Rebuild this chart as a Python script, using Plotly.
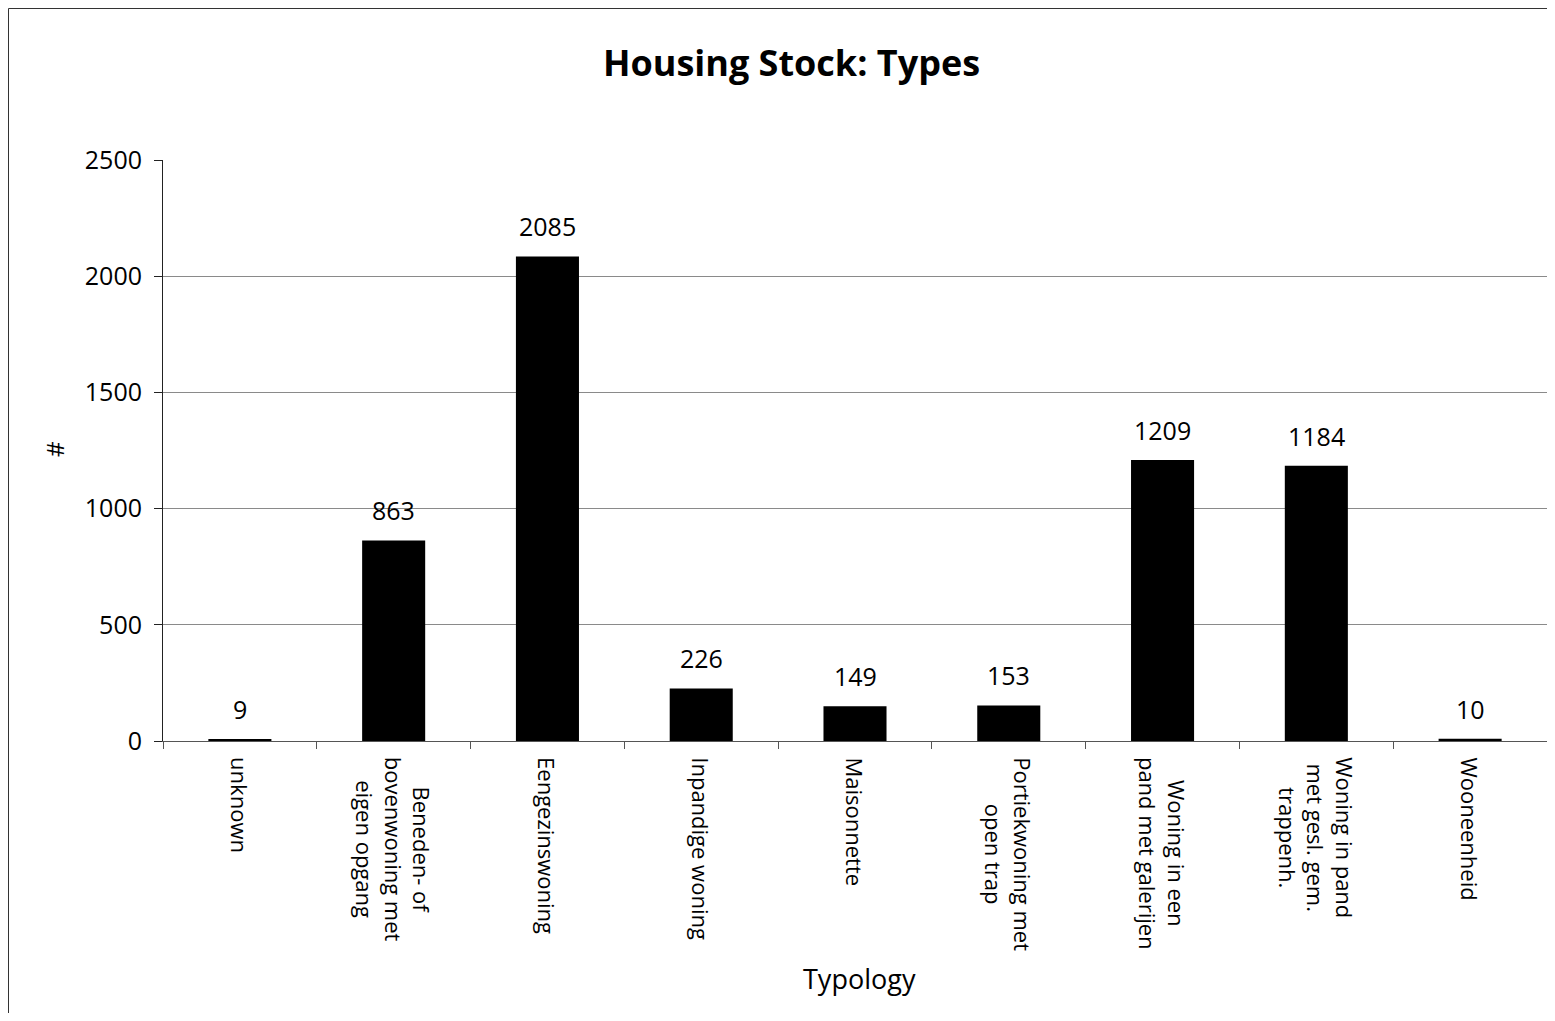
import plotly.graph_objects as go

# ---- data ----
categories = ["unknown", "Beneden- of bovenwoning met eigen opgang", "Eengezinswoning",
              "Inpandige woning", "Maisonnette", "Portiekwoning met open trap",
              "Woning in een pand met galerijen", "Woning in pand met gesl. gem. trappenh.",
              "Wooneenheid"]
category_labels = ["unknown", "Beneden- of<br>bovenwoning met<br>eigen opgang", "Eengezinswoning",
                   "Inpandige woning", "Maisonnette", "Portiekwoning met<br>open trap",
                   "Woning in een<br>pand met galerijen", "Woning in pand<br>met gesl. gem.<br>trappenh.",
                   "Wooneenheid"]
values = [9, 863, 2085, 226, 149, 153, 1209, 1184, 10]
y_ticks = [0, 500, 1000, 1500, 2000, 2500]

# ---- layout geometry (pixels in the figure) ----
W, H = 1539, 1005
ML, MR, MT, MB = 155, 0, 152, 272
PW = W - ML - MR
PH = H - MT - MB
FONT = "Open Sans"

def px_x(p):
    return (p - ML) / PW

def px_y(p):
    return (H - MB - p) / PH

fig = go.Figure()
fig.add_trace(go.Bar(x=categories, y=values, marker=dict(color="black", line=dict(width=0)),
                     hoverinfo="x+y"))

annotations = []
# value labels
for c, v in zip(categories, values):
    annotations.append(dict(x=c, y=v, xref="x", yref="y", text=str(v), showarrow=False,
                            yanchor="bottom", xanchor="center", yshift=11,
                            font=dict(family=FONT, size=25, color="black")))
# category labels, rotated
for c, lab in zip(categories, category_labels):
    annotations.append(dict(x=c, y=0, xref="x", yref="paper", text=lab, showarrow=False,
                            textangle=90, yanchor="top", xanchor="center", align="center",
                            yshift=-14, font=dict(family=FONT, size=22, color="black")))
# axis titles
annotations.append(dict(x=px_x(46), y=px_y(441), xref="paper", yref="paper", text="#",
                        showarrow=False, textangle=-90, xanchor="center", yanchor="middle",
                        font=dict(family=FONT, size=24, color="black")))
annotations.append(dict(x=px_x(851), y=px_y(970), xref="paper", yref="paper", text="Typology",
                        showarrow=False, xanchor="center", yanchor="middle",
                        font=dict(family=FONT, size=27, color="black")))

fig.update_layout(
    width=W, height=H,
    margin=dict(l=ML, r=MR, t=MT, b=MB, pad=0),
    paper_bgcolor="white", plot_bgcolor="rgba(0,0,0,0)",
    showlegend=False, bargap=0.59,
    font=dict(family=FONT, color="black"),
    title=dict(text="<b>Housing Stock: Types</b>", x=783.5 / W, xref="container",
               xanchor="center", y=1 - 55 / H, yref="container", yanchor="middle",
               font=dict(family=FONT, size=36, color="black")),
    annotations=annotations,
    shapes=[dict(type="rect", xref="paper", yref="paper",
                 x0=px_x(0.5), x1=1.2, y0=-1.0, y1=px_y(0.5),
                 line=dict(color="#333333", width=1), fillcolor="rgba(0,0,0,0)", layer="below")],
)

fig.update_xaxes(type="category", showticklabels=False, ticks="outside", tickson="boundaries",
                 ticklen=7, tickcolor="#555555", tickwidth=1,
                 showline=True, linecolor="#555555", linewidth=1, showgrid=False, zeroline=False,
                 range=[-0.5, len(categories) - 0.5], fixedrange=True)
fig.update_yaxes(range=[0, 2500], tickvals=y_ticks, ticktext=[str(t) for t in y_ticks],
                 ticks="outside", ticklen=8, tickcolor="#222222", tickwidth=1,
                 showline=True, linecolor="#222222", linewidth=1,
                 showgrid=True, gridcolor="#8a8a8a", gridwidth=1, zeroline=False,
                 tickfont=dict(family=FONT, size=25, color="black"), ticklabelstandoff=7,
                 fixedrange=True)

fig.write_html("out.html", config={"displayModeBar": False})
